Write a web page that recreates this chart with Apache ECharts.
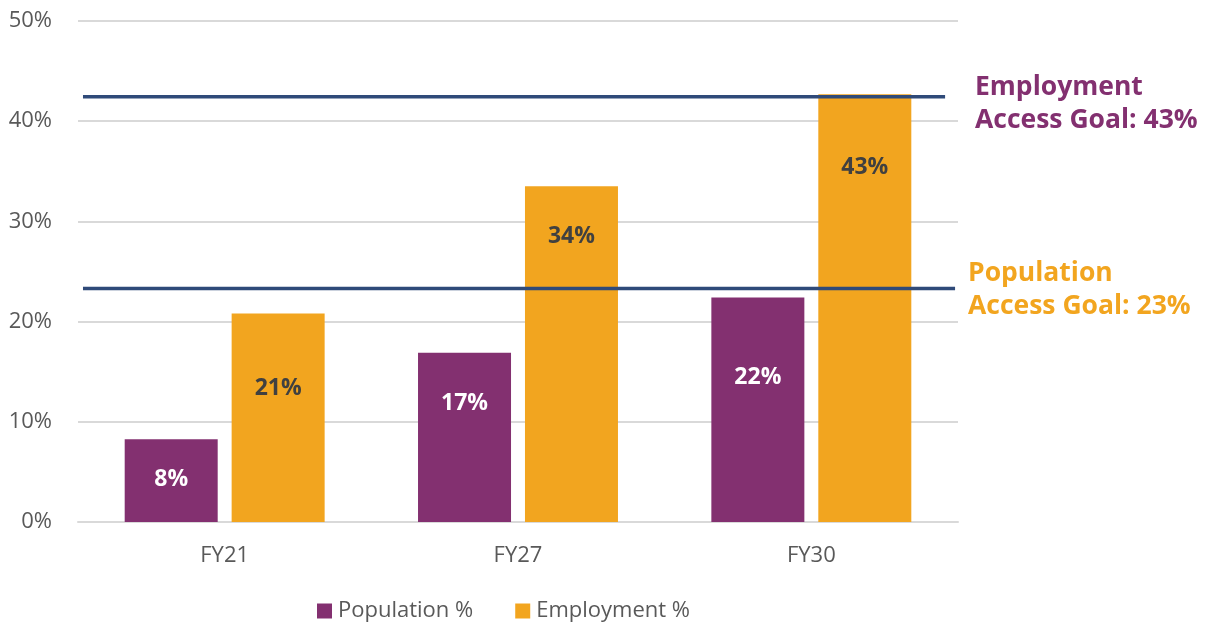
<!DOCTYPE html>
<html>
<head>
<meta charset="utf-8">
<script src="https://cdn.jsdelivr.net/npm/echarts@6/dist/echarts.min.js"></script>
<style>html,body{margin:0;padding:0;background:#fff;}#c{width:1207px;height:623px;}</style>
</head>
<body>
<div id="c"></div>
<script>
var categories = ['FY21', 'FY27', 'FY30'];
var populationPct = [8.25, 16.9, 22.4];
var employmentPct = [20.8, 33.5, 42.7];
var populationLabels = ['8%', '17%', '22%'];
var employmentLabels = ['21%', '34%', '43%'];
var yTicks = [0, 10, 20, 30, 40, 50];
var employmentGoal = 42.45;
var populationGoal = 23.3;
var employmentGoalText = ['Employment', 'Access Goal: 43%'];
var populationGoalText = ['Population', 'Access Goal: 23%'];
// goal line extents in category units (0..3 spans the category axis)
var employmentGoalSpan = [0.017, 2.956];
var populationGoalSpan = [0.017, 2.99];

// label placement styles (distance from bar top, px)
var popLabelDist = [29, 39, 68];
var empLabelDist = [63, 39, 62];

var PURPLE = '#833070', ORANGE = '#F2A51F', NAVY = '#2F4A79', GRAY = '#595959';
var FONT = '"Open Sans", "Liberation Sans", sans-serif';

function barData(values, labels, dist, color) {
  return values.map(function (v, i) {
    return { value: v, label: { show: true, position: 'insideTop', distance: dist[i], formatter: labels[i], color: color } };
  });
}

var chart = echarts.init(document.getElementById('c'), null, { renderer: 'canvas' });
chart.setOption({
  animation: false,
  textStyle: { fontFamily: FONT },
  grid: { left: 78, right: 249, top: 21, bottom: 101 },
  legend: {
    data: ['Population %', 'Employment %'],
    left: 312, top: 595,
    icon: 'rect', itemWidth: 15, itemHeight: 15, itemGap: 42, itemStyle: { borderWidth: 0 },
    textStyle: { fontFamily: FONT, fontSize: 22, color: GRAY, padding: [0, 0, 0, 1] }
  },
  xAxis: [{
    type: 'category', data: categories,
    axisLine: { show: true, lineStyle: { color: '#D9D9D9', width: 2 } },
    axisTick: { show: false },
    axisLabel: { fontFamily: FONT, fontSize: 22, color: GRAY, margin: 23 }
  }, {
    type: 'value', min: 0, max: 3, show: false
  }],
  yAxis: {
    type: 'value', min: yTicks[0], max: yTicks[yTicks.length - 1], interval: yTicks[1] - yTicks[0],
    axisLine: { show: false }, axisTick: { show: false },
    axisLabel: { formatter: '{value}%', fontFamily: FONT, fontSize: 22, color: GRAY, margin: 26 },
    splitLine: { lineStyle: { color: '#D9D9D9', width: 2 } }
  },
  series: [{
    name: 'Population %', type: 'bar', barWidth: 93, barGap: '15%',
    itemStyle: { color: PURPLE },
    label: { fontFamily: FONT, fontSize: 23, fontWeight: 'bold' },
    data: barData(populationPct, populationLabels, popLabelDist, '#FFFFFF')
  }, {
    name: 'Employment %', type: 'bar', barWidth: 93,
    itemStyle: { color: ORANGE },
    label: { fontFamily: FONT, fontSize: 23, fontWeight: 'bold' },
    data: barData(employmentPct, employmentLabels, empLabelDist, '#404040')
  }, {
    name: 'Employment Goal', type: 'line', xAxisIndex: 1, symbol: 'none', silent: true, z: 5,
    lineStyle: { color: NAVY, width: 3.5 },
    data: [[employmentGoalSpan[0], employmentGoal], [employmentGoalSpan[1], employmentGoal]]
  }, {
    name: 'Population Goal', type: 'line', xAxisIndex: 1, symbol: 'none', silent: true, z: 5,
    lineStyle: { color: NAVY, width: 3.5 },
    data: [[populationGoalSpan[0], populationGoal], [populationGoalSpan[1], populationGoal]]
  }],
  graphic: [{
    type: 'text', left: 975, top: 71,
    style: { text: employmentGoalText.join('\n'), fill: PURPLE, font: 'bold 26.5px ' + FONT, lineHeight: 33 }
  }, {
    type: 'text', left: 968, top: 257,
    style: { text: populationGoalText.join('\n'), fill: ORANGE, font: 'bold 26.5px ' + FONT, lineHeight: 33 }
  }]
});
</script>
</body>
</html>
